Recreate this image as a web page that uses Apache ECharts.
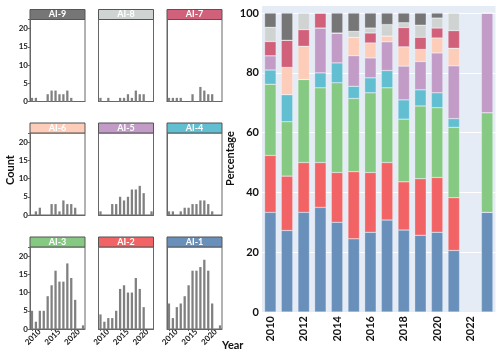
<!DOCTYPE html>
<html>
<head>
<meta charset="utf-8">
<script src="https://cdn.jsdelivr.net/npm/echarts@6/dist/echarts.min.js"></script>
<style>
  html, body { margin: 0; padding: 0; background: #fff; }
  #chart { width: 500px; height: 354px; }
</style>
</head>
<body>
<div id="chart"></div>
<script>
// years on both charts
const years = ['2010', '2011', '2012', '2013', '2014', '2015', '2016',
  '2017', '2018', '2019', '2020', '2021', '2022', '2023']

// counts per year for each group
const ai1 = [7, 3, 6, 7, 9, 12, 16, 16, 17, 19, 16, 7, 0, 1]
const ai2 = [4, 2, 3, 3, 5, 11, 12, 10, 10, 14, 11, 6, 0, 0]
const ai3 = [5, 2, 5, 5, 9, 12, 16, 13, 13, 18, 14, 8, 0, 1]
const ai4 = [1, 1, 0, 1, 2, 2, 3, 3, 4, 4, 3, 1, 0, 0]
const ai5 = [1, 0, 0, 3, 3, 5, 4, 5, 7, 7, 8, 6, 0, 1]
const ai6 = [0, 1, 2, 0, 0, 3, 3, 1, 4, 3, 3, 2, 0, 0]
const ai7 = [1, 1, 1, 1, 0, 0, 2, 0, 4, 3, 2, 2, 0, 0]
const ai8 = [1, 0, 1, 0, 0, 1, 1, 2, 1, 3, 2, 2, 0, 0]
const ai9 = [1, 1, 0, 0, 2, 3, 3, 2, 2, 3, 1, 0, 0, 0]

const groupNames = ['AI-1', 'AI-2', 'AI-3', 'AI-4', 'AI-5', 'AI-6', 'AI-7', 'AI-8', 'AI-9']
const groupColors = ['#6890bb', '#f26365', '#85c982', '#62bfd2', '#c29cc7',
  '#fdcdb9', '#d1607a', '#cfd4d2', '#767676']
const countTicks = [0, 5, 10, 15, 20]
const yearTicks = ['2010', '2015', '2020']
const pctTicks = [0, 20, 40, 60, 80, 100]

const counts = [ai1, ai2, ai3, ai4, ai5, ai6, ai7, ai8, ai9]

// share of each group per year
const totals = years.map((_, i) => counts.reduce((s, arr) => s + arr[i], 0))
const pct = counts.map(arr => arr.map((v, i) => totals[i] ? v / totals[i] * 100 : null))

const FONT = 'Lato, "Liberation Sans", sans-serif'

// small multiples layout: rows top -> bottom are AI-9..7, AI-6..4, AI-3..1
const panelOrder = [[8, 7, 6], [5, 4, 3], [2, 1, 0]]
const colX = [30, 98.5, 167]
const rowTop = [19.5, 133, 247]
const panelW = 55
const panelH = 82
const stripH = 10

const grids = []
const xAxes = []
const yAxes = []
const series = []
const graphics = []
const bottomGrids = []

panelOrder.forEach((row, r) => {
  row.forEach((g, c) => {
    const idx = grids.length
    grids.push({
      left: colX[c], top: rowTop[r], width: panelW, height: panelH,
      show: true, borderColor: '#666', borderWidth: 1, backgroundColor: '#fff'
    })
    const bottomRow = r === 2
    const leftCol = c === 0
    if (bottomRow) bottomGrids.push(idx)
    xAxes.push({
      type: 'category', gridIndex: idx, data: years,
      axisLine: { lineStyle: { color: '#666' } },
      axisTick: {
        show: bottomRow, length: 2, alignWithLabel: true,
        interval: (i) => yearTicks.includes(years[i]), lineStyle: { color: '#666' }
      },
      axisLabel: { show: false }
    })
    yAxes.push({
      type: 'value', gridIndex: idx, min: 0, max: 22.5, interval: 5,
      splitLine: { show: false },
      axisLine: { show: true, lineStyle: { color: '#666' } },
      axisTick: { show: leftCol, length: 2, lineStyle: { color: '#666' } },
      axisLabel: {
        show: leftCol, margin: 2, fontSize: 8, fontWeight: 'bold', color: '#222', fontFamily: FONT,
        formatter: (v) => countTicks.includes(v) ? String(v) : ''
      }
    })
    series.push({
      type: 'bar', xAxisIndex: idx, yAxisIndex: idx, data: counts[g],
      barWidth: '58%', itemStyle: { color: '#808080' }, silent: true
    })
    // title strip above each panel
    graphics.push({
      type: 'rect',
      shape: { x: colX[c], y: rowTop[r] - stripH, width: panelW, height: stripH },
      style: { fill: groupColors[g], stroke: '#555', lineWidth: 1 }
    })
    graphics.push({
      type: 'text',
      x: colX[c] + panelW / 2, y: rowTop[r] - stripH / 2,
      style: {
        text: groupNames[g], fill: '#fff', fontSize: 9, fontWeight: 'bold',
        fontFamily: FONT, align: 'center', verticalAlign: 'middle'
      }
    })
  })
})

graphics.push({
  type: 'text', x: 10, y: 170, rotation: Math.PI / 2,
  style: { text: 'Count', fontSize: 11, fontWeight: 'bold', fill: '#111', fontFamily: FONT, align: 'center', verticalAlign: 'middle' }
})
graphics.push({
  type: 'text', x: 222, y: 345,
  style: { text: 'Year', fontSize: 11, fontWeight: 'bold', fill: '#111', fontFamily: FONT, align: 'left', verticalAlign: 'middle' }
})

// stacked percentage chart
const mainIdx = grids.length
grids.push({
  left: 262, right: 4.5, top: 5, bottom: 42,
  show: true, borderWidth: 0, backgroundColor: '#e5ecf6'
})
xAxes.push({
  type: 'category', gridIndex: mainIdx, data: years,
  axisLine: { show: false }, axisTick: { show: false },
  axisLabel: {
    interval: (i) => i % 2 === 0, rotate: 90, margin: 4,
    fontSize: 11, fontWeight: 'bold', color: '#111', fontFamily: FONT
  }
})
yAxes.push({
  type: 'value', gridIndex: mainIdx, min: 0, max: 102.7, interval: 20,
  name: 'Percentage', nameLocation: 'middle', nameGap: 16, nameRotate: 90,
  nameTextStyle: { fontSize: 11, fontWeight: 'bold', color: '#111', fontFamily: FONT },
  axisLine: { show: false }, axisTick: { show: false },
  splitLine: { lineStyle: { color: '#fff', width: 1 } },
  axisLabel: {
    margin: 3, fontSize: 11, fontWeight: 'bold', color: '#111', fontFamily: FONT,
    formatter: (v) => pctTicks.includes(v) ? String(v) : ''
  }
})
pct.forEach((arr, k) => {
  series.push({
    type: 'bar', name: groupNames[k], xAxisIndex: mainIdx, yAxisIndex: mainIdx,
    stack: 'share', data: arr, barWidth: '69%', silent: true,
    itemStyle: { color: groupColors[k], borderColor: 'rgba(255,255,255,0.5)', borderWidth: 0.5 }
  })
})

const chart = echarts.init(document.getElementById('chart'), null, { renderer: 'canvas' })
chart.setOption({
  animation: false,
  grid: grids,
  xAxis: xAxes,
  yAxis: yAxes,
  series: series,
  graphic: graphics
})

// diagonal year labels centred under the ticks of the bottom panels
bottomGrids.forEach((idx) => {
  yearTicks.forEach((yr) => {
    const p = chart.convertToPixel({ gridIndex: idx }, [yr, 0])
    graphics.push({
      type: 'text', x: p[0] + 1, y: p[1] + 8, rotation: Math.PI / 4,
      style: {
        text: yr, fontSize: 8, fontWeight: 'bold', fill: '#222', fontFamily: FONT,
        align: 'center', verticalAlign: 'middle'
      }
    })
  })
})
chart.setOption({ graphic: graphics })
</script>
</body>
</html>
